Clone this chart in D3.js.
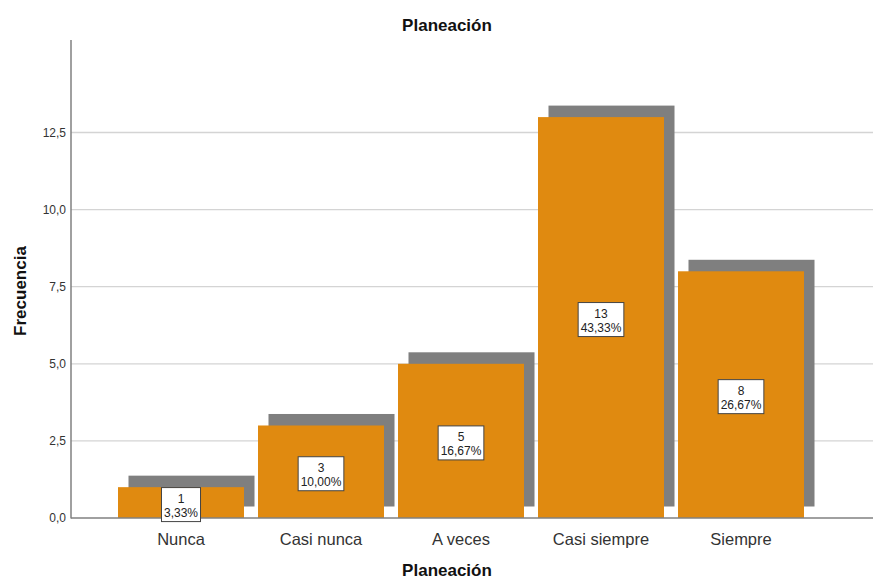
<!DOCTYPE html>
<html><head><meta charset="utf-8">
<script src="https://cdn.jsdelivr.net/npm/d3@7"></script>
<style>
body{margin:0;background:#fff;}
svg{display:block;font-family:"Liberation Sans",Arial,sans-serif;}
</style></head>
<body>
<svg id="chart" width="881" height="585"></svg>
<script>
const categories = ["Nunca", "Casi nunca", "A veces", "Casi siempre", "Siempre"];
const counts = [1, 3, 5, 13, 8];
const percents = ["3,33%", "10,00%", "16,67%", "43,33%", "26,67%"];
const yTicks = [0, 2.5, 5, 7.5, 10, 12.5];
const chartTitle = "Planeación";
const xTitle = "Planeación";
const yTitle = "Frecuencia";

const svg = d3.select("#chart");
const mLeft = 71, mRight = 873, mTop = 40, mBottom = 518;

const x = d3.scaleBand().domain(categories).range([111, 811]).paddingInner(0.1).paddingOuter(0.05);
const y = d3.scaleLinear().domain([0, 15.5]).range([mBottom, mTop]);
const fmt = v => d3.format(".1f")(v).replace(".", ",");

// gridlines
svg.append("g").selectAll("line").data(yTicks.filter(d => d > 0)).join("line")
  .attr("x1", mLeft).attr("x2", mRight)
  .attr("y1", d => y(d)).attr("y2", d => y(d))
  .attr("stroke", "#d4d4d4").attr("stroke-width", 1.3);

const data = categories.map((c, i) => ({c, v: counts[i], p: percents[i]}));

// shadows
svg.append("g").selectAll("rect").data(data).join("rect")
  .attr("x", d => x(d.c) + 10.5).attr("y", d => y(d.v) - 11.5)
  .attr("width", x.bandwidth()).attr("height", d => mBottom - y(d.v))
  .attr("fill", "#7f7f7f");

// bars
svg.append("g").selectAll("rect").data(data).join("rect")
  .attr("x", d => x(d.c)).attr("y", d => y(d.v))
  .attr("width", x.bandwidth()).attr("height", d => mBottom - y(d.v))
  .attr("fill", "#e08a10");

// axes
const yAxis = d3.axisLeft(y).tickValues(yTicks).tickFormat(fmt).tickSize(0).tickPadding(5);
const gy = svg.append("g").attr("transform", `translate(${mLeft},0)`).call(yAxis);
gy.select(".domain").remove();
gy.selectAll("text").attr("font-size", 12).attr("fill", "#333").attr("font-family", "Liberation Sans, Arial, sans-serif");

const xAxis = d3.axisBottom(x).tickSize(0).tickPadding(15);
const gx = svg.append("g").attr("transform", `translate(0,${mBottom})`).call(xAxis);
gx.select(".domain").remove();
gx.selectAll("text").attr("font-size", 16.5).attr("fill", "#333").attr("font-family", "Liberation Sans, Arial, sans-serif");

svg.append("line").attr("x1", mLeft).attr("x2", mLeft).attr("y1", mTop).attr("y2", mBottom + 0.5)
  .attr("stroke", "#808080").attr("stroke-width", 1.5);
svg.append("line").attr("x1", mLeft).attr("x2", mRight).attr("y1", mBottom).attr("y2", mBottom)
  .attr("stroke", "#808080").attr("stroke-width", 1.5);

// labels
const lg = svg.append("g").selectAll("g").data(data).join("g")
  .attr("transform", d => `translate(${x(d.c) + x.bandwidth()/2},${(y(d.v) + mBottom)/2 + 2})`);
const box = lg.append("rect").attr("fill", "#fff").attr("stroke", "#444").attr("stroke-width", 1);
lg.append("text").attr("text-anchor", "middle").attr("y", -1.5).attr("font-size", 12).attr("fill", "#222").text(d => d.v);
const t2 = lg.append("text").attr("text-anchor", "middle").attr("y", 12.5).attr("font-size", 12).attr("fill", "#222").text(d => d.p);
t2.each(function(d){ d.w = this.getComputedTextLength(); });
box.attr("x", d => -(d.w/2 + 2.5)).attr("y", -17).attr("width", d => d.w + 5).attr("height", 34);

// titles
svg.append("text").attr("x", 447).attr("y", 31).attr("text-anchor", "middle")
  .attr("font-size", 17).attr("font-weight", "bold").attr("fill", "#111").text(chartTitle);
svg.append("text").attr("x", 447).attr("y", 576).attr("text-anchor", "middle")
  .attr("font-size", 17).attr("font-weight", "bold").attr("fill", "#111").text(xTitle);
svg.append("text").attr("transform", "translate(25.5,291) rotate(-90)").attr("text-anchor", "middle")
  .attr("font-size", 17).attr("font-weight", "bold").attr("fill", "#111").text(yTitle);
</script>
</body></html>
